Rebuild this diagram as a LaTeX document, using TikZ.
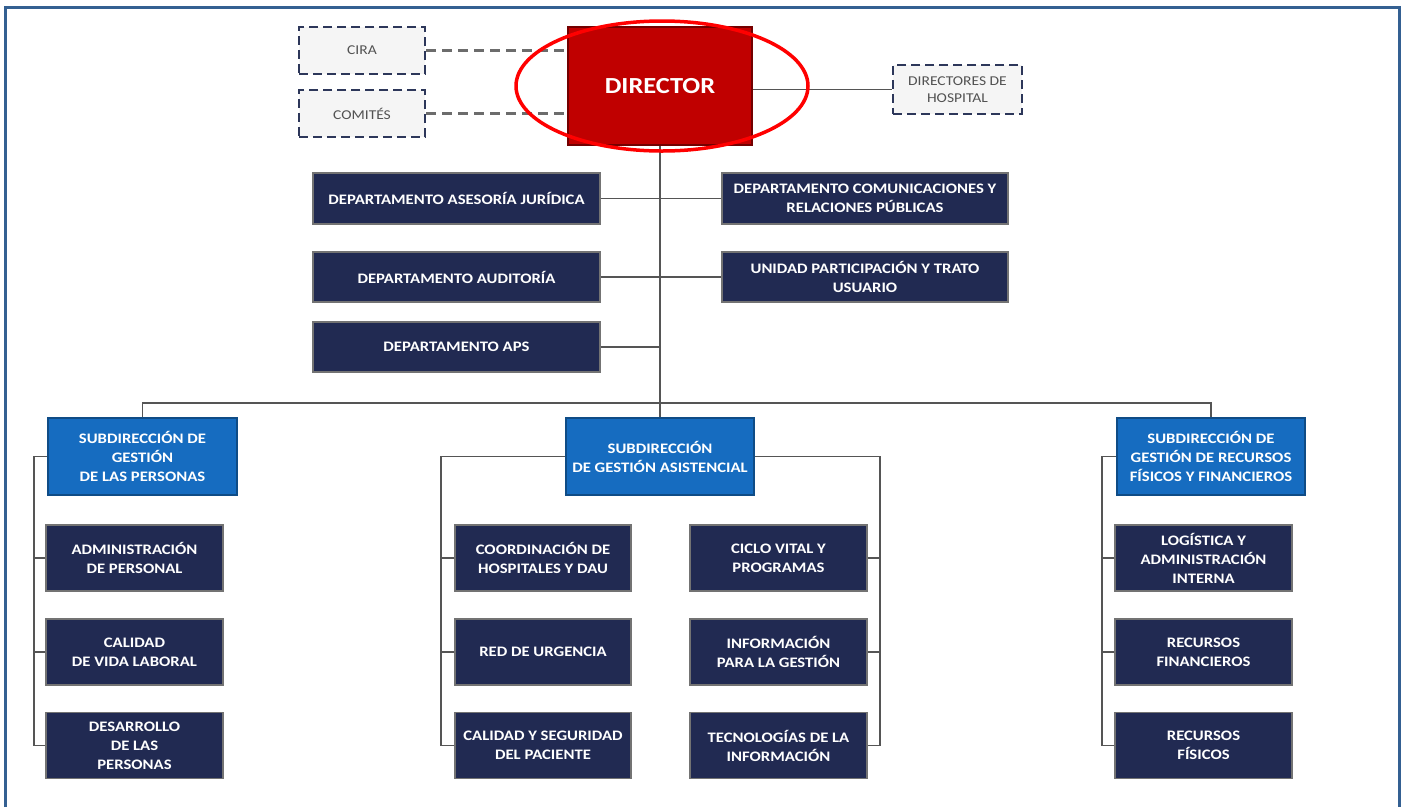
\documentclass[tikz,border=0pt]{standalone}
\usepackage{fontspec}
\setmainfont{Carlito}[FakeStretch=1.15]
\usepackage{tikz}
\usetikzlibrary{calc}

\definecolor{navyfill}{RGB}{33,42,82}
\definecolor{subblue}{RGB}{22,108,192}
\definecolor{dirred}{RGB}{192,0,0}
\definecolor{framblue}{RGB}{52,96,146}
\definecolor{dashnavy}{RGB}{45,55,90}
\definecolor{linegray}{RGB}{85,85,85}

\begin{document}
\begin{tikzpicture}[x=1pt,y=-1pt,
  navybox/.style={fill=navyfill, draw=black!55, line width=1.2pt, text=white,
    font=\bfseries\fontsize{14.5}{19}\selectfont, align=center, inner sep=0pt},
  subbox/.style={navybox, fill=subblue, draw=subblue!70!black},
  dirbox/.style={fill=dirred, draw=dirred!60!black, line width=1.5pt, text=white,
    font=\bfseries\fontsize{23}{28}\selectfont, inner sep=0pt,
    minimum width=184, minimum height=118},
  dashbox/.style={fill=gray!8, draw=dashnavy, line width=2pt,
    dash pattern=on 9pt off 5pt, text=black!68,
    font=\fontsize{13.5}{17}\selectfont, align=center, inner sep=0pt},
  conn/.style={draw=linegray, line width=1.8pt},
  dashconn/.style={draw=gray!85!black, line width=2.2pt, dash pattern=on 10pt off 6pt}]
%\draw[help lines] (0,0) grid[step=50] (1401,807);
\useasboundingbox (0,0) rectangle (1401,807);

% frame
\draw[framblue, line width=3pt] (5.5,807) -- (5.5,7.5) -- (1399.5,7.5) -- (1399.5,807);

% top
\node[dirbox] (dir) at (660,86) {DIRECTOR};
\node[dashbox, minimum width=126, minimum height=47] (cira) at (362,50.5) {CIRA};
\node[dashbox, minimum width=126, minimum height=47] (com) at (362,113.5) {COMITÉS};
\node[dashbox, minimum width=129, minimum height=49] (hosp) at (957.5,89.5) {DIRECTORES DE\\HOSPITAL};

\draw[dashconn] (cira.east) -- (cira.east -| dir.west);
\draw[dashconn] (com.east) -- (com.east -| dir.west);
\draw[conn] (hosp.west) -- (hosp.west -| dir.east);

% departamentos
\node[navybox, minimum width=287, minimum height=51] (jur) at (456.5,198.5) {DEPARTAMENTO ASESORÍA JURÍDICA};
\node[navybox, minimum width=287, minimum height=50] (aud) at (456.5,277) {DEPARTAMENTO AUDITORÍA};
\node[navybox, minimum width=287, minimum height=50] (aps) at (456.5,347) {DEPARTAMENTO APS};
\node[navybox, minimum width=286, minimum height=51] (rrpp) at (865,198.5) {DEPARTAMENTO COMUNICACIONES Y\\RELACIONES PÚBLICAS};
\node[navybox, minimum width=286, minimum height=50] (usu) at (865,277) {UNIDAD PARTICIPACIÓN Y TRATO\\USUARIO};

% subdirecciones
\node[subbox, minimum width=189, minimum height=77] (sdp) at (142.5,456.5) {SUBDIRECCIÓN DE\\GESTIÓN\\DE LAS PERSONAS};
\node[subbox, minimum width=188, minimum height=77] (sda) at (660,456.5) {SUBDIRECCIÓN\\DE GESTIÓN ASISTENCIAL};
\node[subbox, minimum width=188, minimum height=77] (sdr) at (1211,456.5) {SUBDIRECCIÓN DE\\GESTIÓN DE RECURSOS\\FÍSICOS Y FINANCIEROS};

\coordinate (bus) at (660,403);
\draw[conn] (dir.south) -- (sda.north);
\draw[conn] (sdp.north) |- (bus) -| (sdr.north);
\draw[conn] (jur.east) -- (rrpp.west);
\draw[conn] (aud.east) -- (usu.west);
\draw[conn] (aps.east) -- (aps.east -| dir.south);

% personas
\node[navybox, minimum width=177, minimum height=66] (adm) at (134.5,558) {ADMINISTRACIÓN\\DE PERSONAL};
\node[navybox, minimum width=177, minimum height=66] (cvl) at (134.5,652) {CALIDAD\\DE VIDA LABORAL};
\node[navybox, minimum width=177, minimum height=66] (dlp) at (134.5,745.5) {DESARROLLO\\DE LAS\\PERSONAS};

% asistencial
\node[navybox, minimum width=176, minimum height=66] (coo) at (543,558) {COORDINACIÓN DE\\HOSPITALES Y DAU};
\node[navybox, minimum width=176, minimum height=66] (red) at (543,652) {RED DE URGENCIA};
\node[navybox, minimum width=176, minimum height=66] (csp) at (543,745.5) {CALIDAD Y SEGURIDAD\\DEL PACIENTE};
\node[navybox, minimum width=177, minimum height=66] (cvp) at (778.5,558) {CICLO VITAL Y\\PROGRAMAS};
\node[navybox, minimum width=177, minimum height=66] (ipg) at (778.5,652) {INFORMACIÓN\\PARA LA GESTIÓN};
\node[navybox, minimum width=177, minimum height=66] (tic) at (778.5,745.5) {TECNOLOGÍAS DE LA\\INFORMACIÓN};

% recursos
\node[navybox, minimum width=177, minimum height=66] (log) at (1203.5,558) {LOGÍSTICA Y\\ADMINISTRACIÓN\\INTERNA};
\node[navybox, minimum width=177, minimum height=66] (rfi) at (1203.5,652) {RECURSOS\\FINANCIEROS};
\node[navybox, minimum width=177, minimum height=66] (rfs) at (1203.5,745.5) {RECURSOS\\FÍSICOS};

% spines
\coordinate (sp1) at (34,0);
\coordinate (sp2) at (441,0);
\coordinate (sp3) at (880,0);
\coordinate (sp4) at (1102,0);
\draw[conn] (sdp.west) -| (sp1 |- dlp.west) -- (dlp.west);
\draw[conn] (sda.west) -| (sp2 |- csp.west) -- (csp.west);
\draw[conn] (sda.east) -| (sp3 |- tic.east) -- (tic.east);
\draw[conn] (sdr.west) -| (sp4 |- rfs.west) -- (rfs.west);
\foreach \n in {adm,cvl} \draw[conn] (\n.west) -- (sp1 |- \n.west);
\foreach \n in {coo,red} \draw[conn] (\n.west) -- (sp2 |- \n.west);
\foreach \n in {cvp,ipg} \draw[conn] (\n.east) -- (sp3 |- \n.east);
\foreach \n in {log,rfi} \draw[conn] (\n.west) -- (sp4 |- \n.west);

% highlight
\draw[red, line width=3.5pt] (662,86) ellipse [x radius=146pt, y radius=65pt];
\end{tikzpicture}
\end{document}
